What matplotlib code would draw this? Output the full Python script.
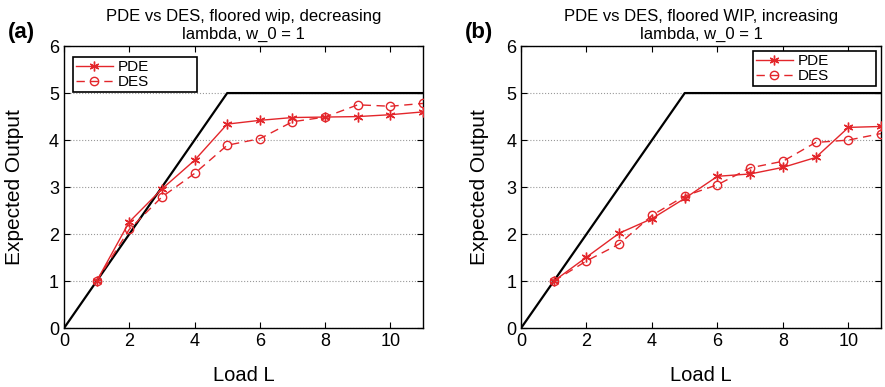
import numpy as np
import matplotlib
matplotlib.use("Agg")
import matplotlib.pyplot as plt

plt.rcParams['font.family'] = ['Liberation Sans', 'DejaVu Sans']

# data
load = [1, 2, 3, 4, 5, 6, 7, 8, 9, 10, 11]
bound_x = [0, 5, 11]
bound_y = [0, 5, 5]

pde_a = [1.0, 2.26, 2.96, 3.57, 4.34, 4.42, 4.48, 4.49, 4.50, 4.54, 4.60]
des_a = [1.0, 2.10, 2.79, 3.29, 3.89, 4.03, 4.39, 4.49, 4.75, 4.72, 4.78]

pde_b = [1.0, 1.51, 2.02, 2.33, 2.76, 3.23, 3.28, 3.42, 3.63, 4.27, 4.29]
des_b = [1.0, 1.43, 1.79, 2.40, 2.81, 3.05, 3.41, 3.55, 3.95, 4.00, 4.14]

titles = ["PDE vs DES, floored wip, decreasing\nlambda, w_0 = 1",
          "PDE vs DES, floored WIP, increasing\nlambda, w_0 = 1"]
tags = ["(a)", "(b)"]
red = '#e3262b'

fig = plt.figure(figsize=(8.85, 3.87), dpi=100)
ax1 = fig.add_axes([0.0723, 0.152, 0.4057, 0.729])
ax2 = fig.add_axes([0.5887, 0.152, 0.407, 0.729])

# legend boxes (axes fraction) and y-label offsets
panels = [(ax1, pde_a, des_a, (0.025, 0.835, 0.345, 0.126), -0.112),
          (ax2, pde_b, des_b, (0.644, 0.86, 0.342, 0.122), -0.09)]
for i, (ax, pde, des, box, ylx) in enumerate(panels):
    ax.plot(bound_x, bound_y, color='black', lw=1.6, zorder=2)
    ax.plot(load, pde, color=red, lw=1, marker=(6, 2, 0), markersize=7, label='PDE', zorder=3)
    ax.plot(load, des, color=red, lw=1, ls=(0, (6, 4)), marker='o', markersize=6,
            markerfacecolor='none', label='DES', zorder=3)
    ax.set_xlim(0, 11)
    ax.set_ylim(0, 6)
    ax.set_xticks(np.arange(0, 11, 2))
    ax.set_yticks(np.arange(0, 7, 1))
    ax.yaxis.grid(True, ls=':', color='#999999', lw=0.8)
    ax.tick_params(direction='in', top=True, right=True, labelsize=13, length=4)
    ax.set_xlabel('Load L', fontsize=14.5)
    ax.xaxis.set_label_coords(0.5, -0.133)
    ax.set_ylabel('Expected Output', fontsize=15)
    ax.yaxis.set_label_coords(ylx, 0.5)
    ax.set_title(titles[i], fontsize=12, pad=5, linespacing=1.3)
    leg = ax.legend(loc='upper left', bbox_to_anchor=box, mode='expand', fontsize=11,
                    fancybox=False, edgecolor='black', framealpha=1, handlelength=2.4,
                    borderpad=0.2, labelspacing=0.05, handletextpad=0.3, borderaxespad=0)
    leg.get_frame().set_linewidth(1.2)
    for s in ax.spines.values():
        s.set_linewidth(1.0)

fig.text(0.009, 0.915, tags[0], fontsize=16, fontweight='bold', va='center')
fig.text(0.525, 0.915, tags[1], fontsize=16, fontweight='bold', va='center')

plt.savefig('out.png')
